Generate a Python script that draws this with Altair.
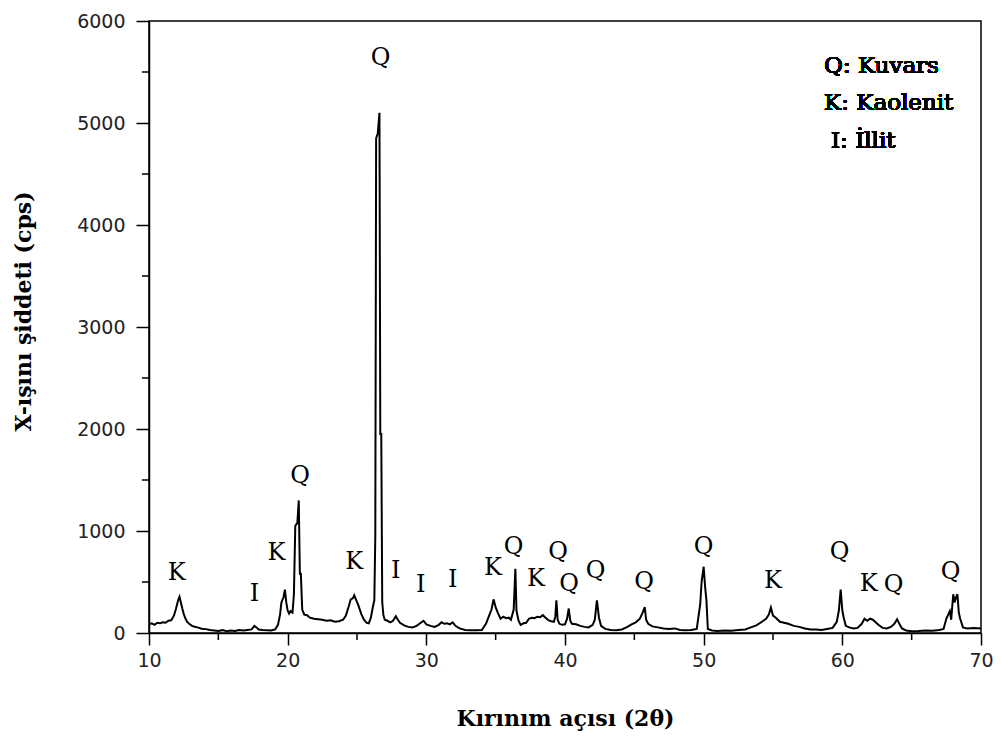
import altair as alt
import pandas as pd

# ---- XRD pattern ----
two_theta = [
    10.0, 10.2, 10.4, 10.6, 10.8, 11.0, 11.2, 11.4, 11.6, 11.8, 11.95, 12.1, 12.2, 12.3, 12.4, 12.5,
    12.6, 12.75, 12.9, 13.1, 13.3, 13.5, 13.8, 14.1, 14.4, 14.7, 15.0, 15.3, 15.6, 15.9, 16.2, 16.5,
    16.8, 17.1, 17.4, 17.6, 17.75, 17.9, 18.2, 18.5, 18.8, 19.1, 19.3, 19.45, 19.55, 19.7, 19.8, 19.9,
    20.0, 20.1, 20.2, 20.35, 20.45, 20.55, 20.7, 20.8, 20.88, 20.95, 21.05, 21.2, 21.4, 21.6, 21.9, 22.2,
    22.5, 22.8, 23.1, 23.4, 23.7, 24.0, 24.2, 24.4, 24.55, 24.7, 24.8, 24.95, 25.1, 25.3, 25.5, 25.7,
    25.85, 26.0, 26.15, 26.25, 26.32, 26.38, 26.5, 26.62, 26.68, 26.75, 26.82, 26.9, 27.0, 27.2, 27.4, 27.6,
    27.8, 27.9, 28.1, 28.4, 28.7, 29.0, 29.3, 29.6, 29.8, 30.0, 30.3, 30.6, 30.9, 31.1, 31.3, 31.5,
    31.7, 31.9, 32.1, 32.4, 32.8, 33.2, 33.6, 34.0, 34.3, 34.5, 34.7, 34.85, 35.0, 35.15, 35.35, 35.55,
    35.75, 35.95, 36.1, 36.3, 36.42, 36.5, 36.65, 36.8, 37.0, 37.2, 37.4, 37.6, 37.8, 38.0, 38.2, 38.4,
    38.6, 38.8, 39.0, 39.2, 39.3, 39.38, 39.47, 39.6, 39.8, 40.0, 40.15, 40.27, 40.38, 40.5, 40.8, 41.1,
    41.4, 41.7, 42.0, 42.15, 42.3, 42.45, 42.6, 42.9, 43.3, 43.7, 44.1, 44.5, 44.8, 45.1, 45.4, 45.6,
    45.75, 45.85, 46.0, 46.3, 46.7, 47.1, 47.5, 47.9, 48.3, 48.7, 49.1, 49.5, 49.75, 49.85, 50.0, 50.1,
    50.2, 50.3, 50.6, 51.0, 51.5, 52.0, 52.5, 53.0, 53.4, 53.8, 54.2, 54.5, 54.7, 54.85, 55.0, 55.2,
    55.5, 55.8, 56.1, 56.5, 56.9, 57.3, 57.7, 58.1, 58.5, 58.9, 59.3, 59.6, 59.75, 59.88, 60.0, 60.1,
    60.25, 60.5, 60.8, 61.1, 61.4, 61.6, 61.8, 62.0, 62.2, 62.4, 62.6, 62.9, 63.2, 63.5, 63.75, 63.95,
    64.15, 64.3, 64.6, 65.0, 65.5, 66.0, 66.5, 67.0, 67.3, 67.5, 67.6, 67.75, 67.85, 68.0, 68.1, 68.2,
    68.3, 68.4, 68.5, 68.7, 69.0, 69.5, 70.0,
]
intensity = [
    85, 95, 80, 100, 95, 105, 100, 120, 125, 170, 240, 320, 355, 300, 240, 190,
    150, 108, 90, 70, 62, 55, 42, 38, 30, 25, 20, 28, 18, 25, 20, 30,
    25, 30, 35, 70, 55, 35, 30, 28, 25, 35, 80, 180, 300, 350, 425, 300,
    220, 190, 215, 200, 380, 1050, 1080, 1300, 580, 580, 230, 180, 175, 150, 140, 135,
    130, 120, 125, 110, 115, 130, 170, 260, 330, 340, 370, 320, 270, 190, 130, 100,
    95, 150, 260, 320, 950, 4850, 4900, 5100, 1950, 1950, 300, 180, 130, 120, 105, 120,
    165, 140, 100, 75, 60, 55, 70, 100, 120, 85, 70, 60, 80, 105, 90, 95,
    85, 105, 70, 45, 30, 28, 28, 30, 90, 160, 230, 330, 250, 200, 140, 160,
    145, 150, 130, 230, 630, 220, 120, 80, 95, 100, 140, 150, 145, 160, 155, 175,
    150, 125, 115, 110, 160, 320, 130, 90, 80, 85, 140, 240, 120, 90, 85, 70,
    60, 55, 80, 130, 320, 150, 70, 40, 30, 28, 35, 60, 85, 105, 140, 200,
    255, 130, 90, 65, 55, 45, 40, 45, 30, 28, 30, 40, 280, 500, 650, 460,
    320, 40, 25, 20, 25, 22, 30, 35, 55, 75, 110, 140, 180, 250, 170, 150,
    110, 100, 90, 70, 60, 45, 35, 35, 30, 40, 50, 110, 220, 425, 220, 150,
    70, 55, 45, 50, 90, 140, 120, 140, 130, 105, 80, 50, 45, 60, 90, 135,
    80, 45, 25, 18, 20, 25, 22, 30, 40, 140, 170, 215, 130, 380, 300, 350,
    380, 200, 140, 55, 45, 50, 45,
]

# ---- peak annotations ----
peak_x = [12.0, 17.6, 19.2, 20.9, 24.8, 26.7, 27.8, 29.6, 31.9, 34.8, 36.3,
          37.9, 39.5, 40.3, 42.2, 45.7, 50.0, 55.0, 59.8, 61.9, 63.7, 67.8]
peak_y = [588, 382, 784, 1539, 696, 5637, 608, 470, 520, 637, 843,
          529, 794, 480, 608, 500, 843, 510, 794, 480, 470, 598]
peak_label = ["K", "I", "K", "Q", "K", "Q", "I", "I", "I", "K", "Q",
              "K", "Q", "Q", "Q", "Q", "Q", "K", "Q", "K", "Q", "Q"]

legend_lines = ["Q: Kuvars", "K: Kaolenit", "I: İllit"]

x_major = [10, 20, 30, 40, 50, 60, 70]
x_minor = [15, 25, 35, 45, 55, 65]
y_major = [0, 1000, 2000, 3000, 4000, 5000, 6000]
y_minor = [500, 1500, 2500, 3500, 4500, 5500]

x_title = "Kırınım açısı (2θ)"
y_title = "X-ışını şiddeti (cps)"

W, H = 832, 612

df = pd.DataFrame({"t": two_theta, "i": intensity})
peaks = pd.DataFrame({"x": peak_x, "y": peak_y, "lab": peak_label})

xscale = alt.Scale(domain=[10, 70], nice=False, zero=False)
yscale = alt.Scale(domain=[0, 6000], nice=False)

xaxis = alt.Axis(values=x_major, title=x_title, tickSize=12, labelPadding=6, format="d",
                 titleY=85, titleBaseline="middle", labelFlush=False)
yaxis = alt.Axis(values=y_major, title=y_title, tickSize=13, labelPadding=11, format="d",
                 titleX=-126, titleY=290, titleAngle=270, titleAlign="center",
                 titleBaseline="middle", labelFlush=False)

line = alt.Chart(df).mark_line(color="black", strokeWidth=2, clip=True).encode(
    x=alt.X("t:Q", scale=xscale, axis=xaxis),
    y=alt.Y("i:Q", scale=yscale, axis=yaxis),
)

xminor = alt.Chart(pd.DataFrame({"v": x_minor})).mark_rule(color="black", strokeWidth=1.5).encode(
    x=alt.X("v:Q", scale=xscale, axis=xaxis),
    y=alt.value(H), y2=alt.value(H + 7),
)
yminor = alt.Chart(pd.DataFrame({"v": y_minor})).mark_rule(color="black", strokeWidth=1.5).encode(
    y=alt.Y("v:Q", scale=yscale, axis=yaxis),
    x=alt.value(0), x2=alt.value(-7),
)

labels = alt.Chart(peaks).mark_text(font="DejaVu Serif", fontSize=24, color="black",
                                    align="center", baseline="middle").encode(
    x=alt.X("x:Q", scale=xscale, axis=xaxis),
    y=alt.Y("y:Q", scale=yscale, axis=yaxis),
    text="lab:N",
)

leg_style = dict(font="DejaVu Serif", fontSize=23, color="black", align="left", baseline="alphabetic")
leg1 = alt.Chart(df).mark_text(**leg_style).encode(x=alt.value(675), y=alt.value(52), text=alt.value(legend_lines[0]))
leg2 = alt.Chart(df).mark_text(**leg_style).encode(x=alt.value(675), y=alt.value(89), text=alt.value(legend_lines[1]))
leg3 = alt.Chart(df).mark_text(**leg_style).encode(x=alt.value(682), y=alt.value(127), text=alt.value(legend_lines[2]))

chart = alt.layer(line, xminor, yminor, labels, leg1, leg2, leg3).properties(
    width=W, height=H,
    autosize=alt.AutoSizeParams(type="none"),
    padding={"left": 141, "top": 13, "right": 13, "bottom": 104},
).configure_view(
    stroke="black", strokeWidth=1.5
).configure_axis(
    grid=False, domainColor="black", domainWidth=1.5, tickColor="black", tickWidth=1.5,
    labelFont="DejaVu Sans", labelFontSize=19, labelColor="#222",
    titleFont="DejaVu Serif", titleFontWeight="bold", titleFontSize=22, titleColor="black",
)

chart.save("out.html", embed_options={"renderer": "svg", "actions": False})
